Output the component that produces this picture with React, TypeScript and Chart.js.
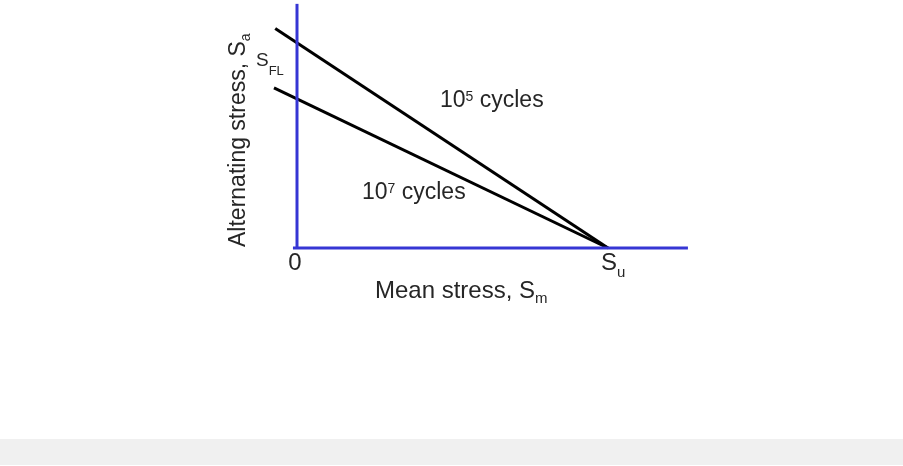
import React, { useEffect, useRef } from "react";
import { Chart, registerables } from "chart.js";

Chart.register(...registerables);

// Mean stress axis: 0 at origin, S_u at 100 (relative units)
const suValue = 100;
// Constant-life lines (Goodman type), x = mean stress, y = alternating stress
const line105X = [-7, suValue];
const line105Y = [70.6, 0];
const line107X = [-7.4, suValue];
const line107Y = [51.5, 0];
// Axis lines
const meanAxisX = [-1.3, 125.7];
const meanAxisY = [0, 0];
const altAxisX = [0, 0];
const altAxisY = [0, 78.5];

const cycleLabels = ["10", "5", " cycles", "10", "7", " cycles"];
const xTitle = ["Mean stress, S", "m"];
const yTitle = ["Alternating stress, S", "a"];
const originLabel = "0";
const suLabel = ["S", "u"];
const sflLabel = ["S", "FL"];

const toPts = (xs: number[], ys: number[]) => xs.map((x, i) => ({ x, y: ys[i] }));

const FONT = "'Liberation Sans', Arial, sans-serif";
const BLUE = "#3636d4";
const TEXT = "#262626";

type Part = { t: string; size: number; dy: number };

function drawRich(ctx: CanvasRenderingContext2D, parts: Part[], x: number, y: number) {
  let cx = x;
  for (const p of parts) {
    ctx.font = `${p.size}px ${FONT}`;
    ctx.fillText(p.t, cx, y + p.dy);
    cx += ctx.measureText(p.t).width;
  }
}

const labelPlugin = {
  id: "labels",
  afterDatasetsDraw(chart: any) {
    const ctx: CanvasRenderingContext2D = chart.ctx;
    const sx = chart.scales.x;
    const sy = chart.scales.y;
    const ox = sx.getPixelForValue(0);
    const oy = sy.getPixelForValue(0);
    const sux = sx.getPixelForValue(suValue);
    ctx.save();
    ctx.fillStyle = TEXT;
    ctx.textBaseline = "alphabetic";
    ctx.textAlign = "left";

    // origin "0"
    ctx.font = `24px ${FONT}`;
    ctx.textAlign = "center";
    ctx.fillText(originLabel, ox - 2, oy + 22);
    ctx.textAlign = "left";

    // S_u
    drawRich(ctx, [
      { t: suLabel[0], size: 24, dy: 0 },
      { t: suLabel[1], size: 15, dy: 7 },
    ], sux - 7, oy + 22);

    // x title
    drawRich(ctx, [
      { t: xTitle[0], size: 24, dy: 0 },
      { t: xTitle[1], size: 15, dy: 5 },
    ], ox + 78, oy + 50);

    // cycle labels
    drawRich(ctx, [
      { t: cycleLabels[0], size: 23, dy: 0 },
      { t: cycleLabels[1], size: 14, dy: -6 },
      { t: cycleLabels[2], size: 23, dy: 0 },
    ], ox + 143, oy - 141);
    drawRich(ctx, [
      { t: cycleLabels[3], size: 23, dy: 0 },
      { t: cycleLabels[4], size: 14, dy: -6 },
      { t: cycleLabels[5], size: 23, dy: 0 },
    ], ox + 65, oy - 49);

    // S_FL
    drawRich(ctx, [
      { t: sflLabel[0], size: 19, dy: 0 },
      { t: sflLabel[1], size: 13, dy: 9 },
    ], ox - 41, oy - 182);

    // y title (rotated)
    ctx.translate(ox - 52, oy - 1);
    ctx.rotate(-Math.PI / 2);
    drawRich(ctx, [
      { t: yTitle[0], size: 23, dy: 0 },
      { t: yTitle[1], size: 14, dy: 5 },
    ], 0, 0);
    ctx.restore();
  },
};

export default function App() {
  const ref = useRef<HTMLCanvasElement>(null);
  useEffect(() => {
    if (!ref.current) return;
    const lineDs = (data: any, color: string) => ({
      data,
      showLine: true,
      borderColor: color,
      backgroundColor: color,
      borderWidth: 3,
      pointRadius: 0,
      borderCapStyle: "butt",
      fill: false,
      clip: false,
    });
    const chart = new Chart(ref.current, {
      type: "scatter",
      data: {
        datasets: [
          lineDs(toPts(meanAxisX, meanAxisY), BLUE),
          lineDs(toPts(altAxisX, altAxisY), BLUE),
          lineDs(toPts(line105X, line105Y), "#000000"),
          lineDs(toPts(line107X, line107Y), "#000000"),
        ] as any,
      },
      options: {
        responsive: false,
        animation: false,
        layout: { padding: { left: 265.9, right: 201.7, top: 2.3, bottom: 159.9 } },
        scales: {
          x: { type: "linear", min: -10, max: 130, display: false },
          y: { type: "linear", min: -10, max: 79, display: false },
        },
        plugins: { legend: { display: false }, tooltip: { enabled: false } },
        events: [],
      },
      plugins: [labelPlugin],
    });
    return () => chart.destroy();
  }, []);
  return (
    <div style={{ position: "fixed", left: 0, top: 0, width: 903, height: 466, background: "#ffffff" }}>
      <canvas ref={ref} width={903} height={439} style={{ display: "block", width: 903, height: 439 }} />
      <div style={{ position: "absolute", left: 0, top: 439, width: 903, height: 26, background: "#f0f0f0" }} />
    </div>
  );
}
